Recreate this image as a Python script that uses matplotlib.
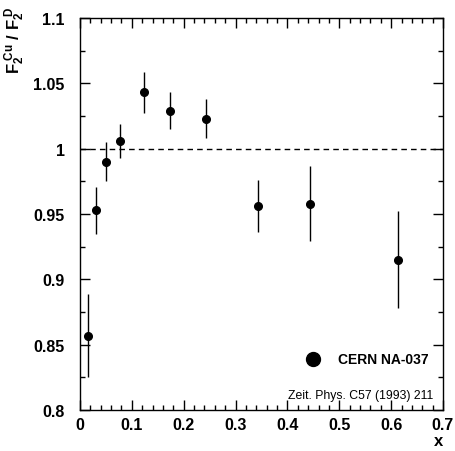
import matplotlib
matplotlib.use("Agg")
import matplotlib.pyplot as plt
from matplotlib.ticker import MultipleLocator

plt.rcParams['font.family'] = ['Liberation Sans', 'DejaVu Sans']
plt.rcParams['mathtext.fontset'] = 'custom'
plt.rcParams['mathtext.rm'] = 'Liberation Sans:bold'
plt.rcParams['mathtext.bf'] = 'Liberation Sans:bold'
plt.rcParams['mathtext.it'] = 'Liberation Sans:bold'

x = [0.015, 0.031, 0.0495, 0.078, 0.123, 0.173, 0.243, 0.343, 0.444, 0.613]
ratio = [0.857, 0.953, 0.990, 1.006, 1.043, 1.029, 1.023, 0.956, 0.958, 0.915]
err = [0.032, 0.018, 0.015, 0.013, 0.016, 0.014, 0.015, 0.020, 0.029, 0.037]

xticks = [0, 0.1, 0.2, 0.3, 0.4, 0.5, 0.6, 0.7]
xtick_labels = ['0', '0.1', '0.2', '0.3', '0.4', '0.5', '0.6', '0.7']
yticks = [0.8, 0.85, 0.9, 0.95, 1.0, 1.05, 1.1]
ytick_labels = ['0.8', '0.85', '0.9', '0.95', '1', '1.05', '1.1']

fig = plt.figure(figsize=(4.55, 4.52), dpi=100)
ax = fig.add_axes([0.1758, 0.0907, 0.7978, 0.8673])

ax.axhline(1.0, color='black', lw=1, ls=(0, (4, 3)))
ax.errorbar(x, ratio, yerr=err, fmt='o', color='black', ms=5.5, lw=1,
            capsize=0, elinewidth=1)

ax.set_xlim(0, 0.7)
ax.set_ylim(0.8, 1.1)
ax.set_xticks(xticks)
ax.set_xticklabels(xtick_labels, fontweight='bold', fontsize=11.5)
ax.set_yticks(yticks)
ax.set_yticklabels(ytick_labels, fontweight='bold', fontsize=11.5)
ax.xaxis.set_minor_locator(MultipleLocator(0.02))
ax.yaxis.set_minor_locator(MultipleLocator(0.025))
ax.tick_params(which='both', direction='in', top=True, right=True, width=1)
ax.tick_params(which='major', length=7)
ax.tick_params(which='minor', length=3.5)
ax.tick_params(axis='x', pad=5)
ax.tick_params(axis='y', pad=11)
for s in ax.spines.values():
    s.set_linewidth(1)

# legend
ax.plot([0.450], [0.839], 'o', color='black', ms=10)
ax.text(0.497, 0.839, 'CERN NA-037', fontweight='bold', fontsize=10,
        va='center', ha='left')
ax.text(0.681, 0.8115, 'Zeit. Phys. C57 (1993) 211', fontsize=8.8,
        va='center', ha='right')

fig.text(0.963, 0.024, 'x', fontweight='bold', fontsize=12, ha='center', va='center')
fig.text(0.033, 0.912, r'$\mathbf{F_2^{\ Cu}\ /\ F_2^{\ D}}$', fontsize=12,
         rotation=90, ha='center', va='center')

fig.savefig('out.png', dpi=100)
